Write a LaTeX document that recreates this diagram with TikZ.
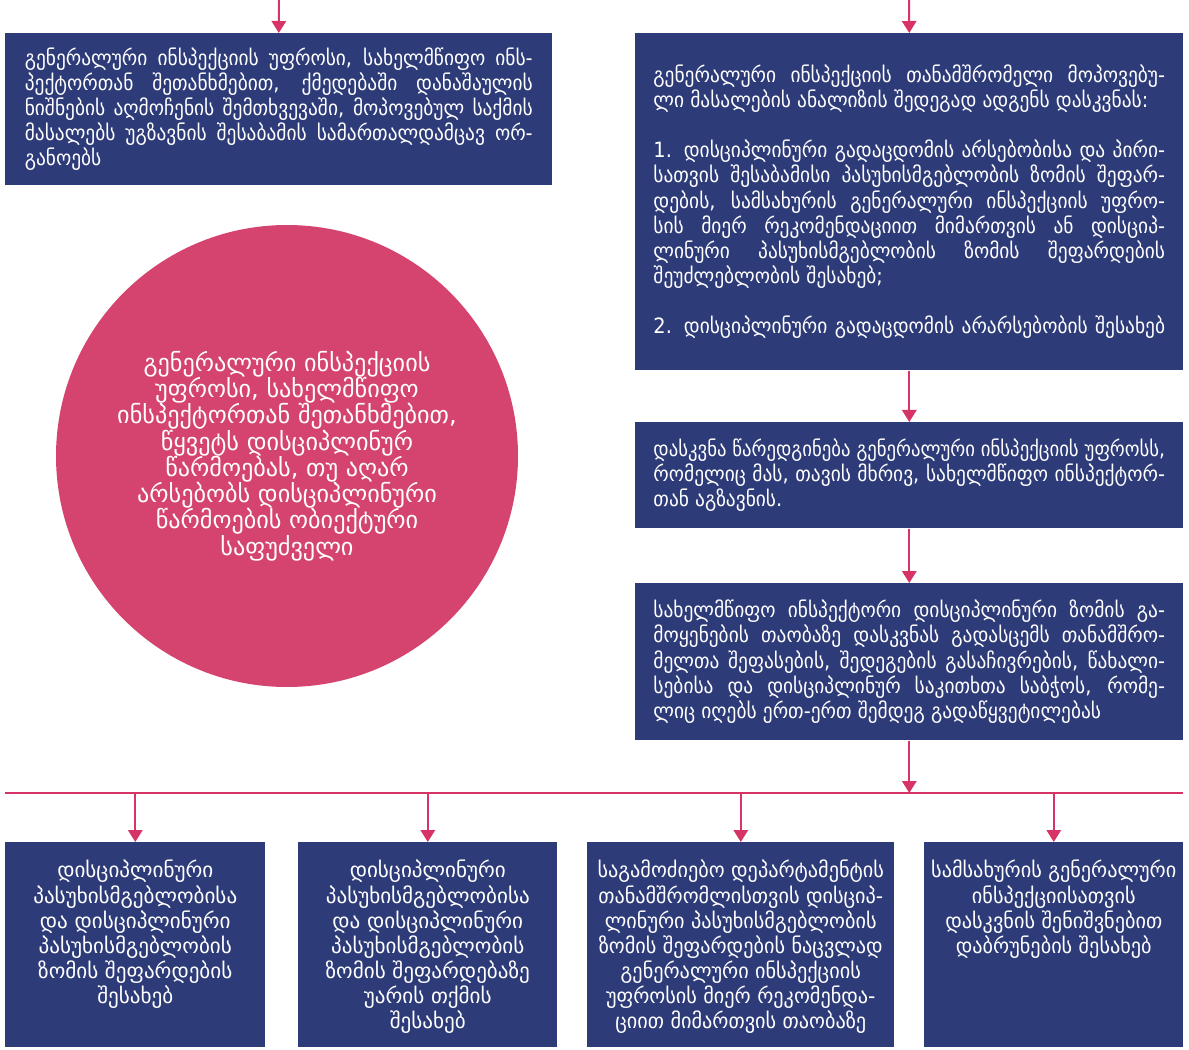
\documentclass[tikz,border=0pt]{standalone}
\usepackage{fontspec}
\usepackage{graphicx}
\setmainfont{DejaVu Sans}
\usetikzlibrary{arrows.meta}
\definecolor{navy}{RGB}{46,59,121}
\definecolor{rose}{RGB}{213,68,111}
\definecolor{link}{RGB}{214,52,102}
\newcommand{\pxl}{0.025cm}
\newcommand{\geo}{\fontsize{15}{17.9}\selectfont}
\newcommand{\jl}[1]{\makebox[\linewidth][s]{#1}}
\newcommand{\jfit}[1]{\resizebox{\linewidth}{\height}{#1}}
\newcommand{\squeeze}[2]{\scalebox{0.92}[1]{\parbox{#1}{#2}}}

\begin{document}
\begin{tikzpicture}[x=0.025cm,y=-0.025cm,
  box/.style={fill=navy,text=white,anchor=north west,inner sep=0pt,font=\geo},
  lead/.style={draw=link,line width=0.05cm,-{Triangle[width=0.36cm,length=0.3cm]}},
  bus/.style={draw=link,line width=0.05cm}]
\useasboundingbox (0,0) rectangle (1189,1050);
\node[box,minimum width=547*\pxl,minimum height=152*\pxl] (chief) at (5,33)
  {\squeeze{13.8cm}{\jl{გენერალური ინსპექციის უფროსი, სახელმწიფო ინს-}\\
   \jl{პექტორთან შეთანხმებით, ქმედებაში დანაშაულის}\\
   \jl{ნიშნების აღმოჩენის შემთხვევაში, მოპოვებულ საქმის}\\
   \jl{მასალებს უგზავნის შესაბამის სამართალდამცავ ორ-}\\
   განოებს}};
\node[box,minimum width=548*\pxl,minimum height=337*\pxl] (analysis) at (635,33)
  {\squeeze{13.9cm}{\jl{გენერალური ინსპექციის თანამშრომელი მოპოვებუ-}\\
   ლი მასალების ანალიზის შედეგად ადგენს დასკვნას:\\[17.9pt]
   \jl{1. დისციპლინური გადაცდომის არსებობისა და პირი-}\\
   \jl{სათვის შესაბამისი პასუხისმგებლობის ზომის შეფარ-}\\
   \jl{დების, სამსახურის გენერალური ინსპექციის უფრო-}\\
   \jl{სის მიერ რეკომენდაციით მიმართვის ან დისციპ-}\\
   \jl{ლინური პასუხისმგებლობის ზომის შეფარდების}\\
   შეუძლებლობის შესახებ;\\[17.9pt]
   \jl{2. დისციპლინური გადაცდომის არარსებობის შესახებ}}};
\node[box,minimum width=548*\pxl,minimum height=106*\pxl] (report) at (635,422)
  {\squeeze{13.9cm}{\jfit{დასკვნა წარედგინება გენერალური ინსპექციის უფროსს,}\\
   \jl{რომელიც მას, თავის მხრივ, სახელმწიფო ინსპექტორ-}\\
   თან აგზავნის.}};
\node[box,minimum width=548*\pxl,minimum height=157*\pxl] (council) at (635,583)
  {\squeeze{13.9cm}{\jl{სახელმწიფო ინსპექტორი დისციპლინური ზომის გა-}\\
   \jl{მოყენების თაობაზე დასკვნას გადასცემს თანამშრო-}\\
   \jl{მელთა შეფასების, შედეგების გასაჩივრების, წახალი-}\\
   \jl{სებისა და დისციპლინურ საკითხთა საბჭოს, რომე-}\\
   ლიც იღებს ერთ-ერთ შემდეგ გადაწყვეტილებას}};
\node[circle,fill=rose,text=white,inner sep=0pt,minimum size=462*\pxl,align=center,font=\fontsize{17.2}{18.7}\selectfont] (stop) at (287,456)
  {გენერალური ინსპექციის\\ უფროსი, სახელმწიფო\\ ინსპექტორთან შეთანხმებით,\\ წყვეტს დისციპლინურ\\ წარმოებას, თუ აღარ\\ არსებობს დისციპლინური\\ წარმოების ობიექტური\\ საფუძველი};
\node[box,minimum width=260*\pxl] (o1) at (5,842)
  {\parbox[c][5.125cm][t]{6.45cm}{\centering\vspace*{0.45cm}დისციპლინური\\ პასუხისმგებლობისა\\ და დისციპლინური\\ პასუხისმგებლობის\\ ზომის შეფარდების\\ შესახებ}};
\node[box,minimum width=259*\pxl] (o2) at (298,842)
  {\parbox[c][5.125cm][t]{6.45cm}{\centering\vspace*{0.45cm}დისციპლინური\\ პასუხისმგებლობისა\\ და დისციპლინური\\ პასუხისმგებლობის\\ ზომის შეფარდებაზე\\ უარის თქმის\\ შესახებ}};
\node[box,minimum width=307*\pxl] (o3) at (587,842)
  {\scalebox{0.96}[1]{\parbox[c][5.125cm][t]{7.6cm}{\centering\vspace*{0.45cm}საგამოძიებო დეპარტამენტის\\ თანამშრომლისთვის დისციპ-\\ ლინური პასუხისმგებლობის\\ ზომის შეფარდების ნაცვლად\\ გენერალური ინსპექციის\\ უფროსის მიერ რეკომენდა-\\ ციით მიმართვის თაობაზე}}};
\node[box,minimum width=259*\pxl] (o4) at (924,842)
  {\scalebox{0.96}[1]{\parbox[c][5.125cm][t]{6.45cm}{\centering\vspace*{0.45cm}სამსახურის გენერალური\\ ინსპექციისათვის\\ დასკვნის შენიშვნებით\\ დაბრუნების შესახებ}}};
\coordinate (inA) at (279,0);
\coordinate (inB) at (909,0);
\coordinate (busL) at (5,793);
\coordinate (busR) at (1183,793);
\draw[lead] (inA) -- (chief.north);
\draw[lead] (inB) -- (analysis.north);
\draw[lead] (analysis.south) -- (report.north);
\draw[lead] (report.south) -- (council.north);
\draw[bus] (busL) -- (busR);
\draw[lead] (council.south) -- (council.south |- busL);
\draw[lead] (o1.north |- busL) -- (o1.north);
\draw[lead] (o2.north |- busL) -- (o2.north);
\draw[lead] (o3.north |- busL) -- (o3.north);
\draw[lead] (o4.north |- busL) -- (o4.north);
\end{tikzpicture}
\end{document}
